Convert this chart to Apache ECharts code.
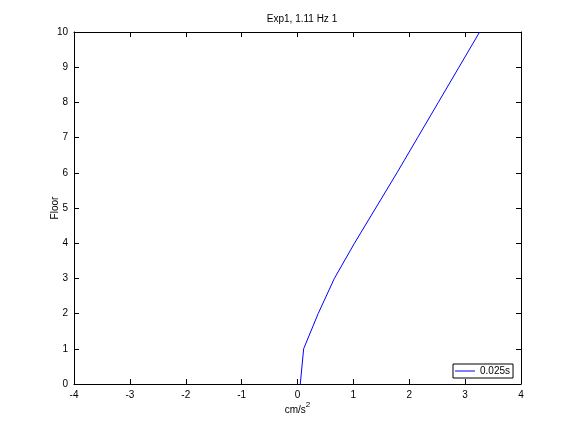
<!DOCTYPE html>
<html><head><meta charset="utf-8">
<script src="https://cdn.jsdelivr.net/npm/echarts@6/dist/echarts.min.js"></script>
<style>html,body{margin:0;padding:0;background:#fff}#c{width:576px;height:432px}</style>
</head><body><div id="c"></div>
<script>
const floors = [0,1,2,3,4,5,6,7,8,9,10];
const accel = [0.05,0.11,0.37,0.66,1.02,1.40,1.78,2.15,2.52,2.89,3.26];
const xTicks = [-4,-3,-2,-1,0,1,2,3,4];
const yTicks = [0,1,2,3,4,5,6,7,8,9,10];
const seriesName = '0.025s';
const titleText = 'Exp1, 1.11 Hz 1';

const font = 'Liberation Sans, Arial, sans-serif';
const axBase = {
  axisLine:{show:true,onZero:false,lineStyle:{color:'#000',width:1}},
  axisTick:{show:true,inside:true,length:5,lineStyle:{color:'#000'}},
  splitLine:{show:false},
  axisLabel:{color:'#000',fontSize:10,fontFamily:font}
};
const chart = echarts.init(document.getElementById('c'));
chart.setOption({
  animation:false,
  title:{text:titleText,left:297,top:9,textAlign:'center',textStyle:{fontSize:10,fontWeight:'normal',color:'#000',fontFamily:font}},
  grid:{left:74,right:55,top:32,bottom:48},
  legend:{data:[{name:seriesName,icon:'rect',itemStyle:{color:'#0000ff'}}],left:453,top:364,orient:'horizontal',borderColor:'#000',borderWidth:1,borderRadius:0,
    padding:[2,3,2,2],itemWidth:20,itemHeight:1,itemGap:0,
    textStyle:{fontSize:10,color:'#000',fontFamily:font,padding:[1,0,1,0]}},
  xAxis:[
    Object.assign({},axBase,{type:'value',min:-4,max:4,interval:1,position:'bottom',
      name:'{b|cm/s}{s|2}',nameLocation:'middle',nameGap:17,nameMoveOverlap:false,
      nameTextStyle:{rich:{b:{fontSize:10,color:'#000',fontFamily:font,verticalAlign:'bottom'},s:{fontSize:8,color:'#000',fontFamily:font,verticalAlign:'top',padding:[0,0,6,0]}}},
      axisLabel:Object.assign({},axBase.axisLabel,{margin:6,formatter:v=>xTicks.includes(v)?String(v):''})}),
    Object.assign({},axBase,{type:'value',min:-4,max:4,interval:1,position:'top',axisLabel:{show:false}})
  ],
  yAxis:[
    Object.assign({},axBase,{type:'value',min:0,max:10,interval:1,position:'left',
      name:'Floor',nameLocation:'middle',nameGap:14,nameMoveOverlap:false,nameTextStyle:{fontSize:10,color:'#000',fontFamily:font},
      axisLabel:Object.assign({},axBase.axisLabel,{margin:6,formatter:v=>yTicks.includes(v)?String(v):''})}),
    Object.assign({},axBase,{type:'value',min:0,max:10,interval:1,position:'right',axisLabel:{show:false}})
  ],
  series:[{name:seriesName,type:'line',xAxisIndex:0,yAxisIndex:0,showSymbol:false,symbol:'none',
    lineStyle:{color:'#0000ff',width:1},itemStyle:{color:'#0000ff'},
    data:floors.map((f,i)=>[accel[i],f])}]
});
</script></body></html>
